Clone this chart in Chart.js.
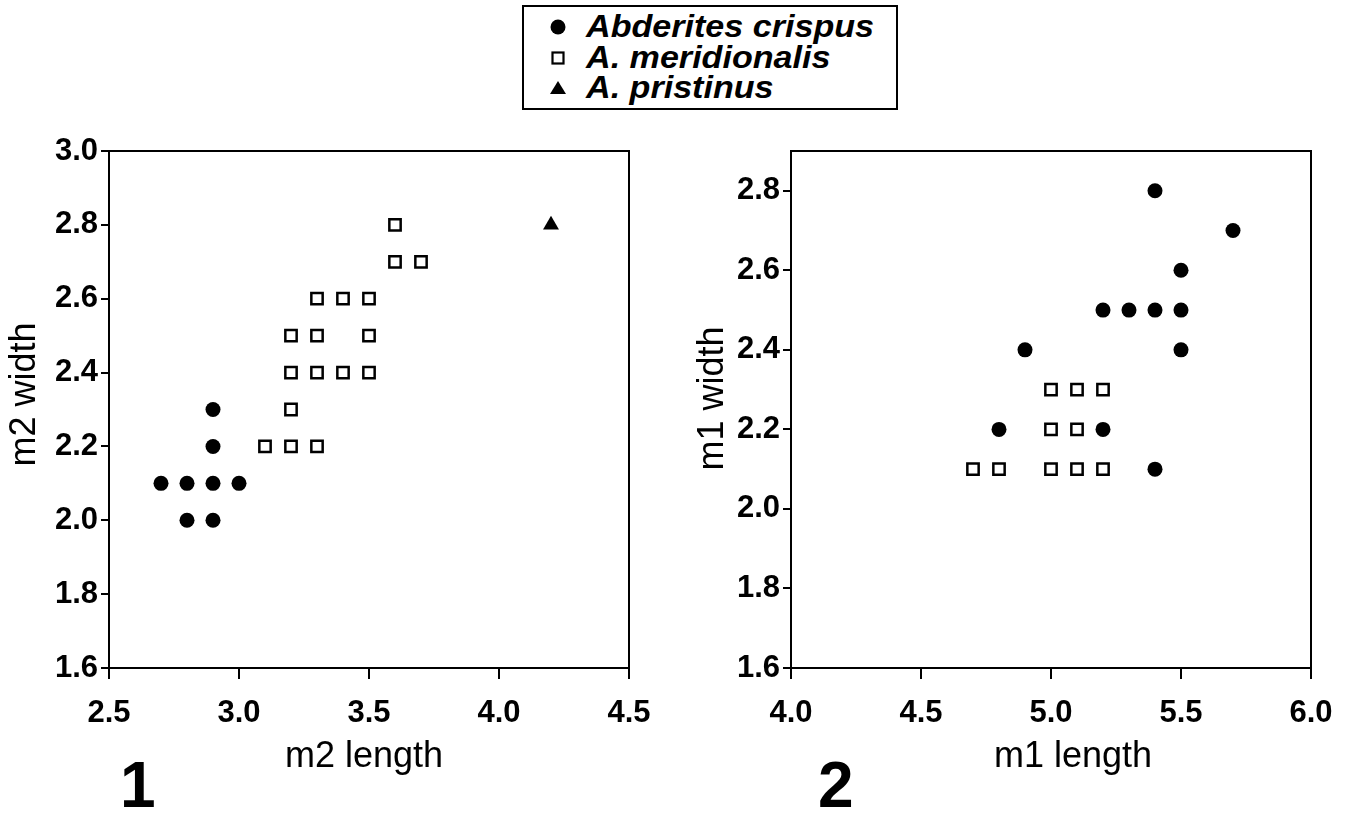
<!DOCTYPE html>
<html>
<head>
<meta charset="utf-8">
<script src="https://cdn.jsdelivr.net/npm/chart.js@4.4.1/dist/chart.umd.min.js"></script>
<style>
  html, body { margin:0; padding:0; background:#fff; }
  body { width:1350px; height:814px; position:relative; overflow:hidden; font-family:"Liberation Sans", Arial, sans-serif; }
  canvas { position:absolute; }
  #legend { position:absolute; left:522px; top:5px; width:372px; height:101px; border:2px solid #000; background:#fff; }
  .ltxt { position:absolute; left:62px; height:30px; line-height:30px; font-size:31px; font-weight:bold; font-style:italic; white-space:nowrap; transform:scaleX(1.1); transform-origin:left center; color:#000; }
  .lmk { position:absolute; left:24px; width:20px; height:20px; }
  .plabel { position:absolute; font-size:64px; font-weight:bold; line-height:64px; color:#000; }
</style>
</head>
<body>
<div id="legend">
  <svg class="lmk" style="top:10px" viewBox="0 0 20 20"><circle cx="10" cy="10" r="7.5" fill="#000"/></svg>
  <div class="ltxt" style="top:5px">Abderites crispus</div>
  <svg class="lmk" style="top:41px" viewBox="0 0 20 20"><rect x="4.5" y="4.5" width="11" height="11" fill="#fff" stroke="#000" stroke-width="2.2"/></svg>
  <div class="ltxt" style="top:36px">A. meridionalis</div>
  <svg class="lmk" style="top:71px" viewBox="0 0 20 20"><polygon points="10,3 18,16 2,16" fill="#000"/></svg>
  <div class="ltxt" style="top:66px">A. pristinus</div>
</div>
<canvas id="c1" width="680" height="694" style="left:0px;top:120px"></canvas>
<canvas id="c2" width="670" height="694" style="left:680px;top:120px"></canvas>
<div class="plabel" style="left:120px;top:753px">1</div>
<div class="plabel" style="left:818px;top:753px">2</div>
<script>
// ---------- DATA ----------
const speciesNames = ["Abderites crispus", "A. meridionalis", "A. pristinus"];

// Chart 1: m2 length vs m2 width
const m2CrispusLength = [2.7, 2.8, 2.8, 2.9, 2.9, 2.9, 2.9, 3.0];
const m2CrispusWidth  = [2.1, 2.1, 2.0, 2.3, 2.2, 2.1, 2.0, 2.1];
const m2MeridLength = [3.1, 3.2, 3.3, 3.2, 3.2, 3.3, 3.4, 3.5, 3.2, 3.3, 3.5, 3.3, 3.4, 3.5, 3.6, 3.7, 3.6];
const m2MeridWidth  = [2.2, 2.2, 2.2, 2.3, 2.4, 2.4, 2.4, 2.4, 2.5, 2.5, 2.5, 2.6, 2.6, 2.6, 2.7, 2.7, 2.8];
const m2PristLength = [4.2];
const m2PristWidth  = [2.8];

// Chart 2: m1 length vs m1 width
const m1CrispusLength = [5.4, 5.7, 5.5, 5.2, 5.3, 5.4, 5.5, 4.9, 5.5, 4.8, 5.2, 5.4];
const m1CrispusWidth  = [2.8, 2.7, 2.6, 2.5, 2.5, 2.5, 2.5, 2.4, 2.4, 2.2, 2.2, 2.1];
const m1MeridLength = [5.0, 5.1, 5.2, 5.0, 5.1, 4.7, 4.8, 5.0, 5.1, 5.2];
const m1MeridWidth  = [2.3, 2.3, 2.3, 2.2, 2.2, 2.1, 2.1, 2.1, 2.1, 2.1];

// Axis ticks
const x1Ticks = [2.5, 3.0, 3.5, 4.0, 4.5];
const y1Ticks = [1.6, 1.8, 2.0, 2.2, 2.4, 2.6, 2.8, 3.0];
const x2Ticks = [4.0, 4.5, 5.0, 5.5, 6.0];
const y2Ticks = [1.6, 1.8, 2.0, 2.2, 2.4, 2.6, 2.8];
const x1Range = [2.5, 4.5], y1Range = [1.6, 3.0];
const x2Range = [4.0, 6.0], y2Range = [1.6, 2.9];
const axisTitles = { x1: "m2 length", y1: "m2 width", x2: "m1 length", y2: "m1 width" };

// ---------- HELPERS ----------
const FONT = '"Liberation Sans", Arial, sans-serif';
const toPts = (xs, ys) => xs.map((x, i) => ({ x: x, y: ys[i] }));

const styleCrispus = { pointStyle: 'circle', pointRadius: 7.5, pointBackgroundColor: '#000', pointBorderColor: '#000', pointBorderWidth: 0 };
const styleMerid   = { pointStyle: 'rect', pointRadius: 8, pointBackgroundColor: '#fff', pointBorderColor: '#000', pointBorderWidth: 2.5 };
const stylePrist   = { pointStyle: 'triangle', pointRadius: 9.2, pointBackgroundColor: '#000', pointBorderColor: '#000', pointBorderWidth: 0 };

const boxPlugin = {
  id: 'boxPlugin',
  afterDraw(chart) {
    const { ctx, chartArea: a } = chart;
    ctx.save();
    ctx.strokeStyle = '#000';
    ctx.lineWidth = 2;
    ctx.strokeRect(a.left, a.top, a.right - a.left, a.bottom - a.top);
    ctx.restore();
  }
};

// axis titles, drawn on the chart canvas with small offsets from the axis centres
const axisTitlePlugin = {
  id: 'axisTitlePlugin',
  afterDraw(chart, args, o) {
    const { ctx, chartArea: a } = chart;
    ctx.save();
    ctx.fillStyle = '#000';
    ctx.textAlign = 'center';
    ctx.textBaseline = 'middle';
    ctx.font = o.size + 'px ' + FONT;
    ctx.fillText(o.xText, (a.left + a.right) / 2 + o.xdx, a.bottom + o.xdy);
    ctx.translate(a.left + o.ydx, (a.top + a.bottom) / 2 + o.ydy);
    ctx.rotate(-Math.PI / 2);
    ctx.fillText(o.yText, 0, 0);
    ctx.restore();
  }
};

function makeOptions(xr, yr, xt, yt, titles, yWidth, padRight) {
  return {
    responsive: false,
    animation: false,
    devicePixelRatio: 1,
    layout: { padding: { top: 31, right: padRight, left: 0, bottom: 0 } },
    plugins: { legend: { display: false }, tooltip: { enabled: false }, axisTitlePlugin: titles },
    scales: {
      x: {
        type: 'linear', position: 'bottom', min: xr[0], max: xr[1],
        afterBuildTicks: s => { s.ticks = xt.map(v => ({ value: v })); },
        afterFit: s => { s.height = 146; },
        ticks: { callback: v => Number(v).toFixed(1), color: '#000', padding: 16, maxRotation: 0, autoSkip: false,
                 font: { family: FONT, size: 31, weight: 'bold' } },
        grid: { drawOnChartArea: false, drawTicks: true, tickLength: 11, color: '#000', tickColor: '#000', lineWidth: 2, tickWidth: 2 },
        border: { display: true, color: '#000', width: 2 },
        title: { display: false, text: titles.xText }
      },
      y: {
        type: 'linear', position: 'left', min: yr[0], max: yr[1],
        afterBuildTicks: s => { s.ticks = yt.map(v => ({ value: v })); },
        afterFit: s => { s.width = yWidth; },
        ticks: { callback: v => Number(v).toFixed(1), color: '#000', padding: 3, autoSkip: false,
                 font: { family: FONT, size: 31, weight: 'bold' } },
        grid: { drawOnChartArea: false, drawTicks: true, tickLength: 8, color: '#000', tickColor: '#000', lineWidth: 2, tickWidth: 2 },
        border: { display: true, color: '#000', width: 2 },
        title: { display: false, text: titles.yText }
      }
    }
  };
}

new Chart(document.getElementById('c1'), {
  type: 'scatter',
  data: {
    datasets: [
      Object.assign({ label: speciesNames[0], data: toPts(m2CrispusLength, m2CrispusWidth) }, styleCrispus),
      Object.assign({ label: speciesNames[1], data: toPts(m2MeridLength, m2MeridWidth) }, styleMerid),
      Object.assign({ label: speciesNames[2], data: toPts(m2PristLength, m2PristWidth) }, stylePrist)
    ]
  },
  options: makeOptions(x1Range, y1Range, x1Ticks, y1Ticks,
    { xText: axisTitles.x1, yText: axisTitles.y1, size: 36, xdx: -5, xdy: 89, ydx: -84, ydy: -15 }, 109, 51),
  plugins: [boxPlugin, axisTitlePlugin]
});

new Chart(document.getElementById('c2'), {
  type: 'scatter',
  data: {
    datasets: [
      Object.assign({ label: speciesNames[0], data: toPts(m1CrispusLength, m1CrispusWidth) }, styleCrispus),
      Object.assign({ label: speciesNames[1], data: toPts(m1MeridLength, m1MeridWidth) }, styleMerid)
    ]
  },
  options: makeOptions(x2Range, y2Range, x2Ticks, y2Ticks,
    { xText: axisTitles.x2, yText: axisTitles.y2, size: 36, xdx: 22, xdy: 89, ydx: -78, ydy: -11 }, 111, 39),
  plugins: [boxPlugin, axisTitlePlugin]
});
</script>
</body>
</html>
